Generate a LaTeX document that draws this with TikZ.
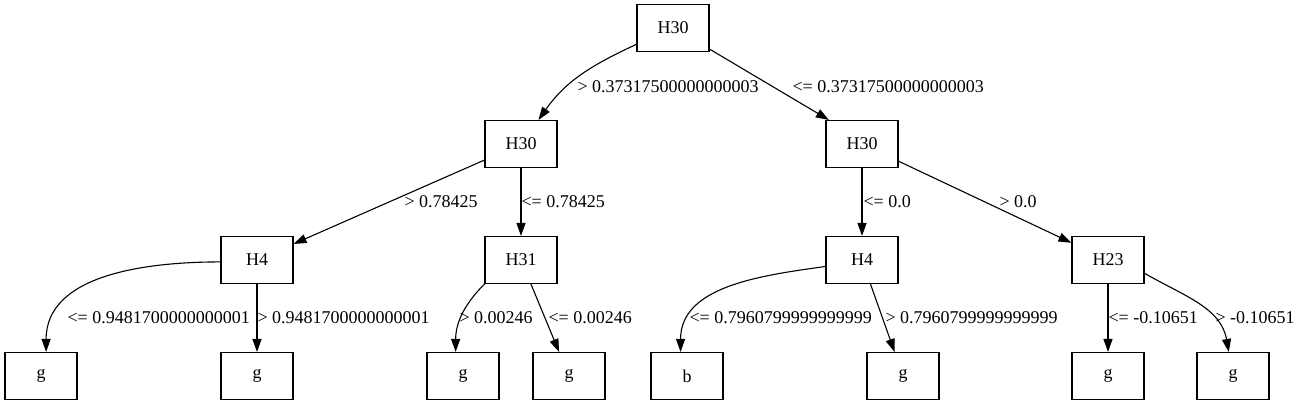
\documentclass[tikz,border=0pt]{standalone}
\usepackage{fontspec}
\setmainfont{Liberation Serif}
\usepackage{tikz}
\usetikzlibrary{arrows.meta,positioning,calc}

\begin{document}
\begin{tikzpicture}[->,>={Triangle[length=13pt,width=9pt]},x=1pt,y=1pt,
       line width=1.1pt, font=\fontsize{18}{21}\selectfont,
       split/.style={draw, minimum width=72pt, minimum height=47pt, inner sep=0pt},
       cond/.style={anchor=west, inner sep=0pt}]
      \useasboundingbox (0,0) rectangle (1303,-407);
      \node[split] (v00) at (673, -28) {H30};
      \node[split] (v10) at (521, -144) {H30};
      \node[split] (v11) at (862, -144) {H30};
      \node[split] (v20) at (257, -260) {H4};
      \node[split] (v21) at (521, -260) {H31};
      \node[split] (v22) at (862, -260) {H4};
      \node[split] (v23) at (1108, -260) {H23};
      \node[split] (v30) at (41, -376) {g};
      \node[split] (v31) at (257, -376) {g};
      \node[split] (v32) at (463, -376) {g};
      \node[split] (v33) at (569, -376) {g};
      \node[split] (v34) at (687, -376) {b};
      \node[split] (v35) at (903, -376) {g};
      \node[split] (v36) at (1108, -376) {g};
      \node[split] (v37) at (1233, -376) {g};
      \path (v00.204) edge[out=205, in=55] (v10.54);
      \path (v00.-30) edge (v11.144);
      \path (v10) edge (v20);
      \path (v10) edge (v21);
      \path (v11) edge (v22);
      \path (v11) edge (v23);
      \path (v20.183) edge[out=180, in=90] (v30.78);
      \path (v20) edge (v31);
      \path (v21.south west) edge[out=-135, in=90] (v32.107);
      \path (v21) edge (v33);
      \path (v22.190) edge[out=188, in=90] (v34.105);
      \path (v22) edge (v35);
      \path (v23) edge (v36);
      \path (v23.-20) edge[out=-30, in=100] (v37.100);

      % split conditions
      \node[cond] (c10) at (577, -87) {> 0.37317500000000003};
      \node[cond] (c11) at (792, -87) {<= 0.37317500000000003};
      \node[cond] (c20) at (404, -202) {> 0.78425};
      \node[cond] (c21) at (521, -202) {<= 0.78425};
      \node[cond] (c22) at (863, -202) {<= 0.0};
      \node[cond] (c23) at (999, -202) {> 0.0};
      \node[cond] (c30) at (67, -318) {<= 0.9481700000000001};
      \node[cond] (c31) at (257, -318) {> 0.9481700000000001};
      \node[cond] (c32) at (459, -318) {> 0.00246};
      \node[cond] (c33) at (548, -318) {<= 0.00246};
      \node[cond] (c34) at (689, -318) {<= 0.7960799999999999};
      \node[cond] (c35) at (885, -318) {> 0.7960799999999999};
      \node[cond] (c36) at (1108, -318) {<= -0.10651};
      \node[cond] (c37) at (1215, -318) {> -0.10651};
     \end{tikzpicture}
\end{document}
